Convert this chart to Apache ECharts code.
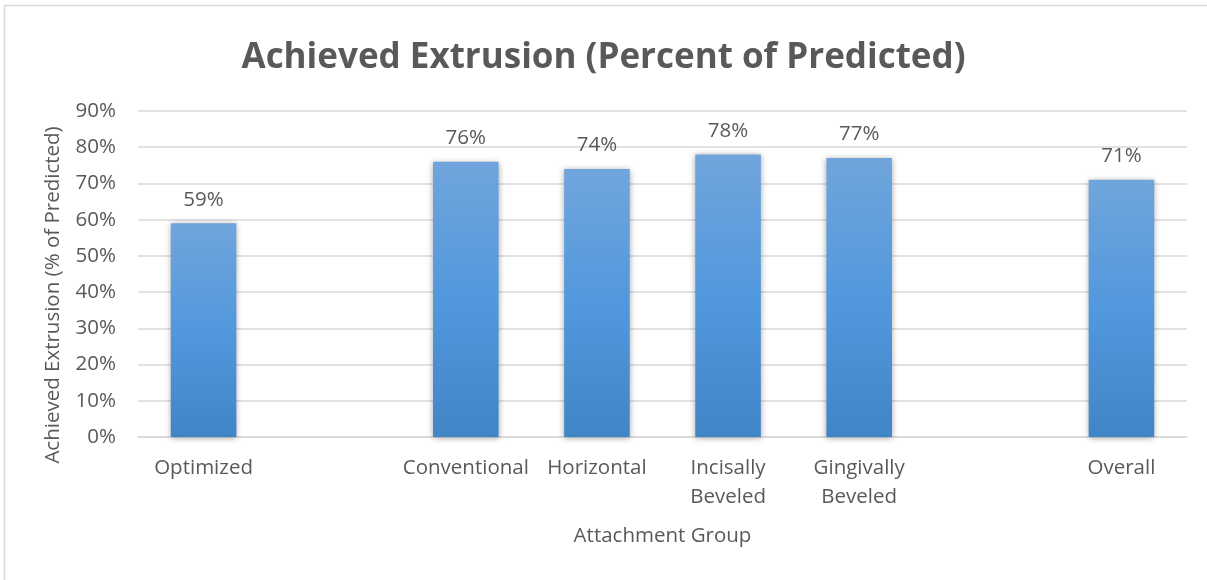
<!DOCTYPE html>
<html>
<head>
<meta charset="utf-8">
<script src="https://cdn.jsdelivr.net/npm/echarts@6/dist/echarts.min.js"></script>
<style>
  html, body { margin: 0; padding: 0; background: #fff; }
  #chart { width: 1207px; height: 580px; }
</style>
</head>
<body>
<div id="chart"></div>
<script>
// Attachment groups; empty slots leave gaps between the groups
const categories = ['Optimized', '', 'Conventional', 'Horizontal', 'Incisally\nBeveled', 'Gingivally\nBeveled', '', 'Overall'];
const achieved = [59, null, 76, 74, 78, 77, null, 71];
const yTicks = [0, 10, 20, 30, 40, 50, 60, 70, 80, 90];

const font = '"Open Sans", sans-serif';
const grey = '#595959';

const chart = echarts.init(document.getElementById('chart'));
chart.setOption({
  animation: false,
  graphic: [{
    type: 'rect',
    shape: { x: 4.5, y: 5.5, width: 1210, height: 600 },
    style: { fill: 'none', stroke: '#d9d9d9', lineWidth: 1.5 },
    silent: true
  }],
  title: {
    text: 'Achieved Extrusion (Percent of Predicted)',
    left: 'center',
    top: 36,
    textStyle: { fontFamily: font, fontSize: 35, fontWeight: 'bold', color: grey }
  },
  grid: { left: 138, right: 20, top: 111, bottom: 143, containLabel: false },
  xAxis: {
    type: 'category',
    data: categories,
    name: 'Attachment Group',
    nameLocation: 'middle',
    nameGap: 89,
    nameTextStyle: { fontFamily: font, fontSize: 20.5, color: grey },
    axisLine: { lineStyle: { color: '#d9d9d9', width: 1.5 } },
    axisTick: { show: false },
    axisLabel: { interval: 0, fontFamily: font, fontSize: 20.5, color: grey, margin: 17, lineHeight: 29 }
  },
  yAxis: {
    type: 'value',
    min: 0,
    max: yTicks[yTicks.length - 1],
    interval: 10,
    name: 'Achieved Extrusion (% of Predicted)',
    nameLocation: 'middle',
    nameGap: 74,
    nameTextStyle: { fontFamily: font, fontSize: 20.5, color: grey, padding: [0, 42, 0, 0] },
    axisLine: { show: false },
    axisTick: { show: false },
    splitLine: { lineStyle: { color: '#d9d9d9', width: 1.5 } },
    axisLabel: { fontFamily: font, fontSize: 20.5, color: grey, margin: 22, formatter: v => v + '%' }
  },
  series: [{
    type: 'bar',
    data: achieved,
    barWidth: '50%',
    itemStyle: {
      color: new echarts.graphic.LinearGradient(0, 0, 0, 1, [
        { offset: 0, color: '#70a5dc' },
        { offset: 0.5, color: '#5298dd' },
        { offset: 1, color: '#4085c6' }
      ]),
      shadowColor: 'rgba(0,0,0,0.35)',
      shadowBlur: 6,
      shadowOffsetY: 1
    },
    label: {
      show: true,
      position: 'top',
      distance: 13,
      fontFamily: font,
      fontSize: 20.5,
      color: grey,
      formatter: p => p.value + '%'
    }
  }]
});
</script>
</body>
</html>
